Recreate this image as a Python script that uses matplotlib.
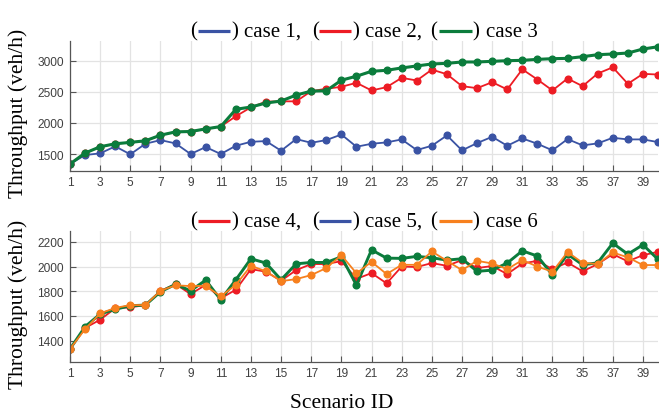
import matplotlib
matplotlib.use("Agg")
import matplotlib.pyplot as plt
from matplotlib.lines import Line2D

scenarios = list(range(1, 41))

case1 = [1340, 1484, 1511, 1623, 1495, 1665, 1724, 1671, 1500, 1612,
         1500, 1633, 1697, 1708, 1553, 1740, 1681, 1724, 1814, 1617,
         1665, 1687, 1735, 1564, 1633, 1799, 1559, 1676, 1777, 1633,
         1751, 1665, 1559, 1740, 1639, 1671, 1761, 1735, 1735, 1692]
case2 = [1340, 1516, 1617, 1665, 1687, 1713, 1803, 1856, 1862, 1904,
         1942, 2107, 2251, 2342, 2347, 2347, 2511, 2549, 2581, 2645,
         2522, 2575, 2725, 2682, 2857, 2783, 2591, 2559, 2655, 2538,
         2862, 2698, 2522, 2714, 2591, 2794, 2894, 2629, 2789, 2778]
case3 = [1340, 1516, 1617, 1665, 1687, 1713, 1803, 1856, 1862, 1904,
         1942, 2219, 2256, 2320, 2352, 2448, 2511, 2517, 2687, 2751,
         2830, 2846, 2884, 2916, 2948, 2958, 2980, 2980, 2990, 3001,
         3006, 3022, 3033, 3038, 3065, 3097, 3108, 3124, 3188, 3225]

case4 = [1333, 1503, 1570, 1662, 1670, 1688, 1802, 1858, 1777, 1852,
         1743, 1812, 1979, 1958, 1885, 1971, 2020, 2020, 2044, 1900,
         1947, 1864, 2000, 1996, 2028, 2006, 2052, 1988, 2004, 1939,
         2025, 2046, 1979, 2033, 1961, 2020, 2100, 2042, 2092, 2119]
case5 = [1333, 1513, 1616, 1654, 1683, 1688, 1796, 1856, 1804, 1890,
         1731, 1893, 2063, 2028, 1893, 2022, 2033, 2033, 2079, 1850,
         2135, 2068, 2066, 2082, 2071, 2052, 2063, 1961, 1971, 2028,
         2127, 2085, 1931, 2100, 2014, 2030, 2189, 2100, 2176, 2058]
case6 = [1333, 1494, 1621, 1665, 1688, 1688, 1804, 1848, 1842, 1844,
         1759, 1852, 2006, 1961, 1882, 1898, 1931, 1988, 2092, 1945,
         2038, 1939, 2014, 2014, 2122, 2046, 1971, 2046, 2025, 1979,
         2052, 2000, 1958, 2117, 2030, 2020, 2114, 2074, 2012, 2012]

xticks = list(range(1, 40, 2))
yticks_top = [1500, 2000, 2500, 3000]
yticks_bot = [1400, 1600, 1800, 2000, 2200]

BLUE = "#3a53a4"
RED = "#ed1c24"
GREEN = "#0b7c3c"
ORANGE = "#f7801e"
TICKC = "#404040"

W, H = 659, 414
fig = plt.figure(figsize=(W / 100, H / 100), dpi=100)

def px_axes(l, t, r, b):
    return fig.add_axes([l / W, 1 - b / H, (r - l) / W, (b - t) / H])

ax1 = px_axes(70, 41.7, 658, 171.7)
ax2 = px_axes(70, 231.7, 658, 362.7)

def style(ax, yticks, ylim):
    ax.set_xlim(1, 40)
    ax.set_ylim(*ylim)
    ax.set_xticks(xticks)
    ax.set_yticks(yticks)
    ax.grid(True, color="#e3e3e3", linewidth=0.9)
    ax.set_axisbelow(True)
    for s in ["top", "right"]:
        ax.spines[s].set_visible(False)
    for s in ["left", "bottom"]:
        ax.spines[s].set_color("#555555")
        ax.spines[s].set_linewidth(0.9)
    ax.tick_params(direction="in", length=4, colors="#555555", labelcolor=TICKC,
                   labelsize=8.6)
    ax.tick_params(axis="x", pad=3.8)
    ax.tick_params(axis="y", pad=4.6)
    for lab in ax.get_xticklabels() + ax.get_yticklabels():
        lab.set_family("Liberation Sans")
    ax.set_ylabel("Throughput (veh/h)", family="Liberation Serif", fontsize=15.5,
                  color="black")
    ax.yaxis.set_label_coords((28.3 - 70) / 588, 0.448)

ms = 4.8
ax1.plot(scenarios, case1, color=BLUE, lw=1.3, marker="o", ms=ms, label="case 1")
ax1.plot(scenarios, case2, color=RED, lw=1.3, marker="o", ms=ms, label="case 2")
ax1.plot(scenarios, case3, color=GREEN, lw=2.2, marker="o", ms=ms, label="case 3")
style(ax1, yticks_top, (1232, 3322))

ax2.plot(scenarios, case4, color=RED, lw=1.3, marker="o", ms=ms, label="case 4")
ax2.plot(scenarios, case5, color=GREEN, lw=2.1, marker="o", ms=ms, label="case 5")
ax2.plot(scenarios, case6, color=ORANGE, lw=1.3, marker="o", ms=ms, label="case 6")
style(ax2, yticks_bot, (1230, 2290))

fig.text(290 / W, 1 - 408.3 / H, "Scenario ID", family="Liberation Serif",
         fontsize=15.5, ha="left", va="baseline")

def title_row(names, colors, base_y, line_y):
    tp = dict(family="Liberation Serif", fontsize=15, color="black",
              va="baseline", ha="left")
    tokens = [("(", 190.5), (")", 231), ("case " + names[0] + ",", 244),
              ("(", 312.5), (")", 352), ("case " + names[1] + ",", 365),
              ("(", 430.5), (")", 472.5), ("case " + names[2], 486)]
    for t, x in tokens:
        fig.text(x / W, 1 - base_y / H, t, **tp)
    segs = [(197.7, 230), (319, 351), (439, 472)]
    for (x0, x1), c in zip(segs, colors):
        fig.add_artist(Line2D([x0 / W, x1 / W], [1 - line_y / H, 1 - line_y / H],
                              color=c, lw=2.3, transform=fig.transFigure,
                              solid_capstyle="butt"))

title_row(["1", "2", "3"], [BLUE, RED, GREEN], 36.7, 31.7)
title_row(["4", "5", "6"], [RED, BLUE, ORANGE], 226.7, 222.3)

fig.savefig("out.png", dpi=100)
